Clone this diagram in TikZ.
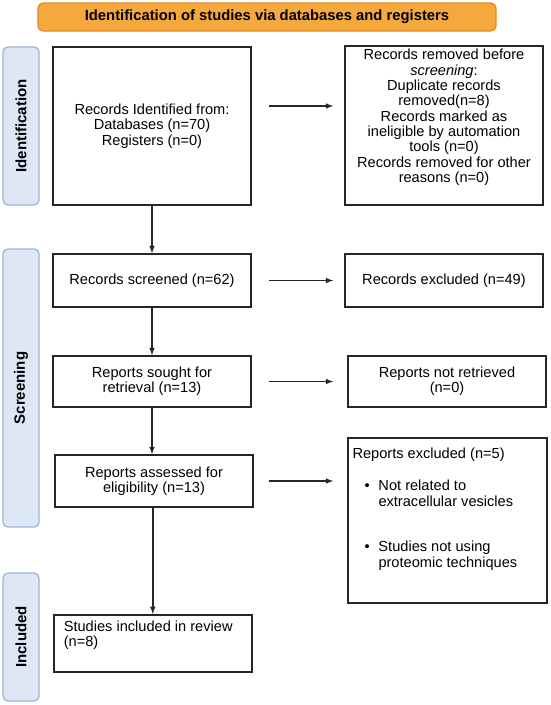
\documentclass[tikz,border=0pt]{standalone}
\usepackage{fontspec}
\setmainfont{Liberation Sans}
\usetikzlibrary{arrows,positioning}
\definecolor{titleorange}{HTML}{F5A93C}
\definecolor{titleedge}{HTML}{E38B1F}
\definecolor{phasefill}{HTML}{DDE7F6}
\definecolor{phaseedge}{HTML}{9CB3DA}
\tikzstyle{box}=[draw=black!85, line width=1.6pt, fill=white, align=center, inner sep=2pt, minimum width=198pt]
\tikzstyle{phase}=[draw=phaseedge, fill=phasefill, line width=1.3pt, rounded corners=5pt, rotate=90, minimum height=36pt, font=\fontsize{15}{16}\selectfont\bfseries]
\tikzstyle{flow}=[->, >=latex, line width=1.5pt, black!85]

\begin{document}
\begin{tikzpicture}[x=1pt,y=-1pt,font=\fontsize{14.6}{15.3}\selectfont]
\useasboundingbox (0,0) rectangle (550,705);
%\draw[help lines] (0,0) grid[step=50pt] (550,705);
\node [draw=titleedge, fill=titleorange, line width=1.2pt, rounded corners=5pt, minimum width=458pt, minimum height=28pt, font=\fontsize{14.8}{16}\selectfont\bfseries] (title) at (267,17) {Identification of studies via databases and registers};
% phases on the left
\node [phase, minimum width=158pt] (identlabel) at (21,126) {Identification};
\node [phase, minimum width=278pt] (screenlabel) at (21,388) {Screening};
\node [phase, minimum width=128pt] (inclabel) at (21,637) {Included};
% main column
\node [box, minimum height=158pt] (records) at (152,126) {Records Identified from:\\Databases (n=70)\\Registers (n=0)};
\node [box, minimum height=53pt] (screened) at (152,280.5) {Records screened (n=62)};
\node [box, minimum height=51pt] (sought) at (152,381.5) {Reports sought for\\retrieval (n=13)};
\node [box, minimum height=52pt] (assessed) at (154,481) {Reports assessed for\\eligibility (n=13)};
\node [box, minimum height=57pt, align=left, anchor=north west, inner sep=0pt] (studies) at (53,614) {\parbox[t][55pt][t]{198pt}{\vspace{5pt}\hspace*{10pt}Studies included in review\\\hspace*{10pt}(n=8)}};
% right column
\node [box, minimum height=159pt] (removed) at (444,125.5) {Records removed before\\\textit{screening}:\\Duplicate records\\removed(n=8)\\Records marked as\\ineligible by automation\\tools (n=0)\\Records removed for other\\reasons (n=0)\\[4pt]};
\node [box, minimum height=53pt] (excluded) at (444,280.5) {Records excluded (n=49)};
\node [box, minimum height=51pt] (notretr) at (447,381.5) {Reports not retrieved\\(n=0)};
\node [box, minimum height=165pt, minimum width=199pt, inner sep=0pt] (repexcl) at (447.5,520.5) {\parbox[t][163pt][t]{190pt}{\vspace{9pt}Reports excluded (n=5)\\[17pt]
\hspace*{12pt}\makebox[14pt][l]{\textbullet}\parbox[t]{160pt}{Not related to\\extracellular vesicles}\\[34pt]
\hspace*{12pt}\makebox[14pt][l]{\textbullet}\parbox[t]{160pt}{Studies not using\\proteomic techniques}}};
% arrows
\draw [flow] (records) -- (screened);
\draw [flow] (screened) -- (sought);
\draw [flow] (sought.south) -- (sought.south |- assessed.north);
\draw [flow] (assessed.south -| studies.north) -- (studies.north);
\draw [flow, shorten <=17pt, shorten >=11pt] ([yshift=20pt]records.east) -- ([yshift=20pt]records.east -| removed.west);
\draw [flow, shorten <=17pt, shorten >=11pt] (screened) -- (excluded);
\draw [flow, shorten <=17pt, shorten >=14pt] (sought) -- (notretr);
\draw [flow, shorten <=15pt, shorten >=14pt] (assessed.east) -- (assessed.east -| repexcl.west);
\end{tikzpicture}
\end{document}
